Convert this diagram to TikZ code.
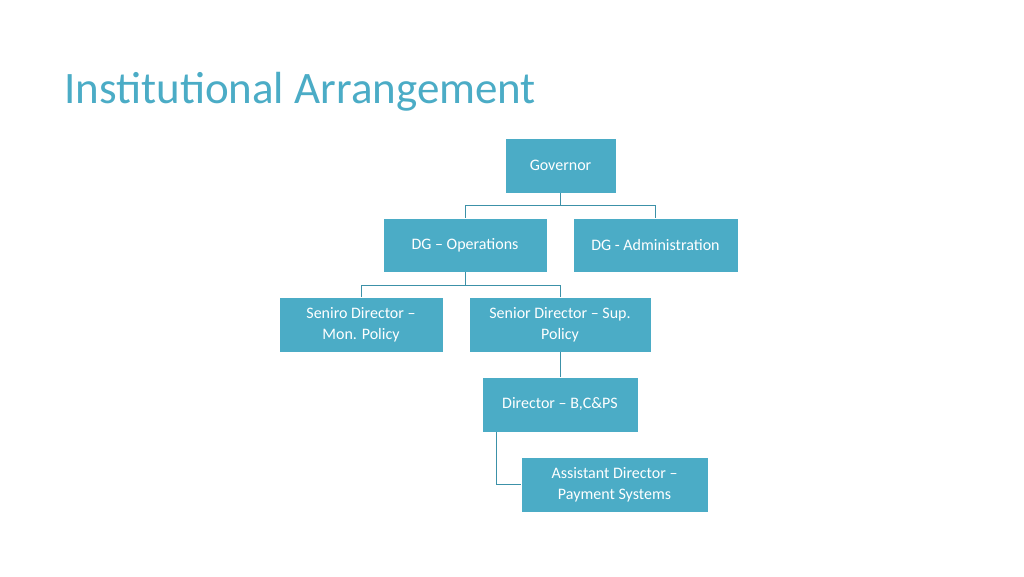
\documentclass[tikz,border=0pt]{standalone}
\usepackage{fontspec}
\setmainfont{Carlito}
\definecolor{teal1}{HTML}{4BACC6}
\definecolor{line1}{HTML}{3C91A8}
\begin{document}
\begin{tikzpicture}[x=1pt,y=-1pt,
  box/.style={fill=teal1,draw=white,line width=0.8pt,text=white,align=center,inner sep=0pt,font=\fontsize{16}{21}\selectfont},
  conn/.style={draw=line1,line width=0.8pt}]
\useasboundingbox (0,0) rectangle (1024,576);
\fill[white] (0,0) rectangle (1024,576);
\node[anchor=base west,text=teal1,font=\fontsize{45}{50}\selectfont,inner sep=0pt] (title) at (64,103) {Institutional Arrangement};
\node[box,minimum width=111pt,minimum height=55pt] (gov) at (560.5,165.5) {Governor};
\node[box,minimum width=164pt,minimum height=54pt] (dgo) at (465,245) {DG – Operations};
\node[box,minimum width=165pt,minimum height=54pt] (dga) at (655.5,245) {DG - Administration};
\node[box,minimum width=164pt,minimum height=55pt] (sd1) at (361,324.5) {Seniro Director –\\Mon. Policy};
\node[box,minimum width=182pt,minimum height=55pt] (sd2) at (560,324.5) {Senior Director – Sup.\\Policy};
\node[box,minimum width=156pt,minimum height=55pt] (dir) at (560,404.5) {Director – B,C\&PS};
\node[box,minimum width=187pt,minimum height=55pt] (ad) at (614.5,484.5) {Assistant Director –\\Payment Systems};
\draw[conn] (gov.south) -- ++(0,12) -| (dgo.north);
\draw[conn] (gov.south) -- ++(0,12) -| (dga.north);
\draw[conn] (dgo.south) -- ++(0,13) -| (sd1.north);
\draw[conn] (dgo.south) -- ++(0,13) -| (sd2.north);
\draw[conn] (sd2.south) -- (dir.north);
\draw[conn] ([xshift=15pt]dir.south west) |- (ad.west);
\end{tikzpicture}
\end{document}
